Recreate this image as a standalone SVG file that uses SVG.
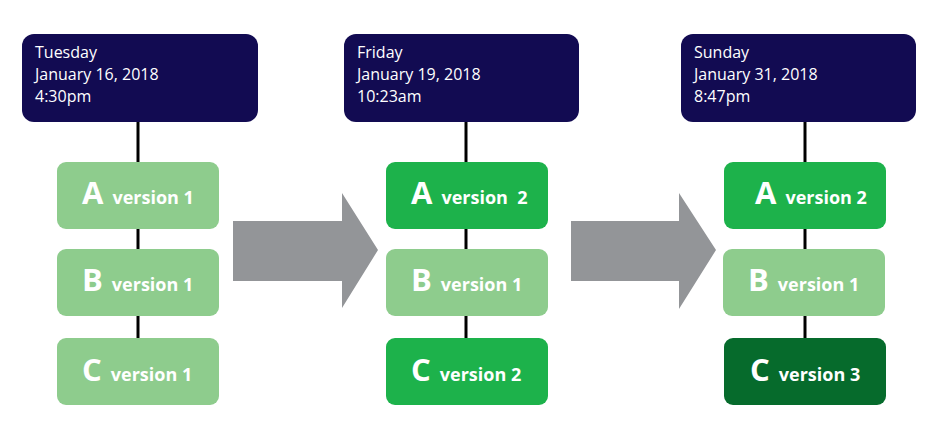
<svg xmlns="http://www.w3.org/2000/svg" width="934" height="421" viewBox="0 0 934 421">
<style>
.hdr{fill:#120b52}
.lt{fill:#8ecc8d}
.md{fill:#1db24b}
.dk{fill:#066b2c}
.ht{font-family:"Open Sans","Liberation Sans",sans-serif;font-size:16px;fill:#ffffff}
.big{font-family:"Open Sans","Liberation Sans",sans-serif;font-weight:bold;font-size:31px;fill:#ffffff}
.ver{font-family:"Open Sans","Liberation Sans",sans-serif;font-weight:bold;font-size:18px;fill:#ffffff}
.ln{stroke:#000;stroke-width:3}
.arr{fill:#939598}
</style>
<rect width="934" height="421" fill="#ffffff"/>
<g id="connectors">
<line class="ln" x1="138" y1="122" x2="138" y2="338"/>
<line class="ln" x1="466" y1="122" x2="466" y2="338"/>
<line class="ln" x1="805" y1="122" x2="805" y2="338"/>
<polygon class="arr" points="233,221 342,221 342,193 378,250 342,308 342,281 233,281"/>
<polygon class="arr" points="571,221 679,221 679,193 716,250 679,309 679,281 571,281"/>
</g>
<g id="h1"><rect class="hdr" x="22" y="34" width="236" height="88" rx="12"/>
<text class="ht" x="35" y="58">Tuesday</text><text class="ht" x="35" y="80">January 16, 2018</text><text class="ht" x="35" y="102">4:30pm</text></g>
<g id="h2"><rect class="hdr" x="344" y="34" width="235" height="88" rx="12"/>
<text class="ht" x="357" y="58">Friday</text><text class="ht" x="357" y="80">January 19, 2018</text><text class="ht" x="357" y="102">10:23am</text></g>
<g id="h3"><rect class="hdr" x="681" y="34" width="235" height="88" rx="12"/>
<text class="ht" x="694" y="58">Sunday</text><text class="ht" x="694" y="80">January 31, 2018</text><text class="ht" x="694" y="102">8:47pm</text></g>

<g id="a1"><rect class="lt" x="57" y="162" width="162" height="67" rx="9"/>
<text x="82" y="204"><tspan class="big">A</tspan><tspan class="ver" dx="9">version 1</tspan></text></g>
<g id="b1"><rect class="lt" x="57" y="249" width="162" height="67" rx="9"/>
<text x="82" y="291"><tspan class="big">B</tspan><tspan class="ver" dx="9">version 1</tspan></text></g>
<g id="c1"><rect class="lt" x="57" y="338" width="162" height="67" rx="9"/>
<text x="82" y="381"><tspan class="big">C</tspan><tspan class="ver" dx="9">version 1</tspan></text></g>

<g id="a2"><rect class="md" x="386" y="162" width="162" height="67" rx="9"/>
<text x="411" y="204"><tspan class="big">A</tspan><tspan class="ver" dx="9" xml:space="preserve">version  2</tspan></text></g>
<g id="b2"><rect class="lt" x="386" y="249" width="162" height="67" rx="9"/>
<text x="411" y="291"><tspan class="big">B</tspan><tspan class="ver" dx="9">version 1</tspan></text></g>
<g id="c2"><rect class="md" x="386" y="338" width="162" height="67" rx="9"/>
<text x="411" y="381"><tspan class="big">C</tspan><tspan class="ver" dx="9">version 2</tspan></text></g>

<g id="a3"><rect class="md" x="724" y="162" width="162" height="67" rx="9"/>
<text x="755" y="204"><tspan class="big">A</tspan><tspan class="ver" dx="9">version 2</tspan></text></g>
<g id="b3"><rect class="lt" x="723" y="249" width="162" height="67" rx="9"/>
<text x="748" y="291"><tspan class="big">B</tspan><tspan class="ver" dx="9">version 1</tspan></text></g>
<g id="c3"><rect class="dk" x="724" y="338" width="162" height="67" rx="9"/>
<text x="750" y="381"><tspan class="big">C</tspan><tspan class="ver" dx="9">version 3</tspan></text></g>
</svg>
